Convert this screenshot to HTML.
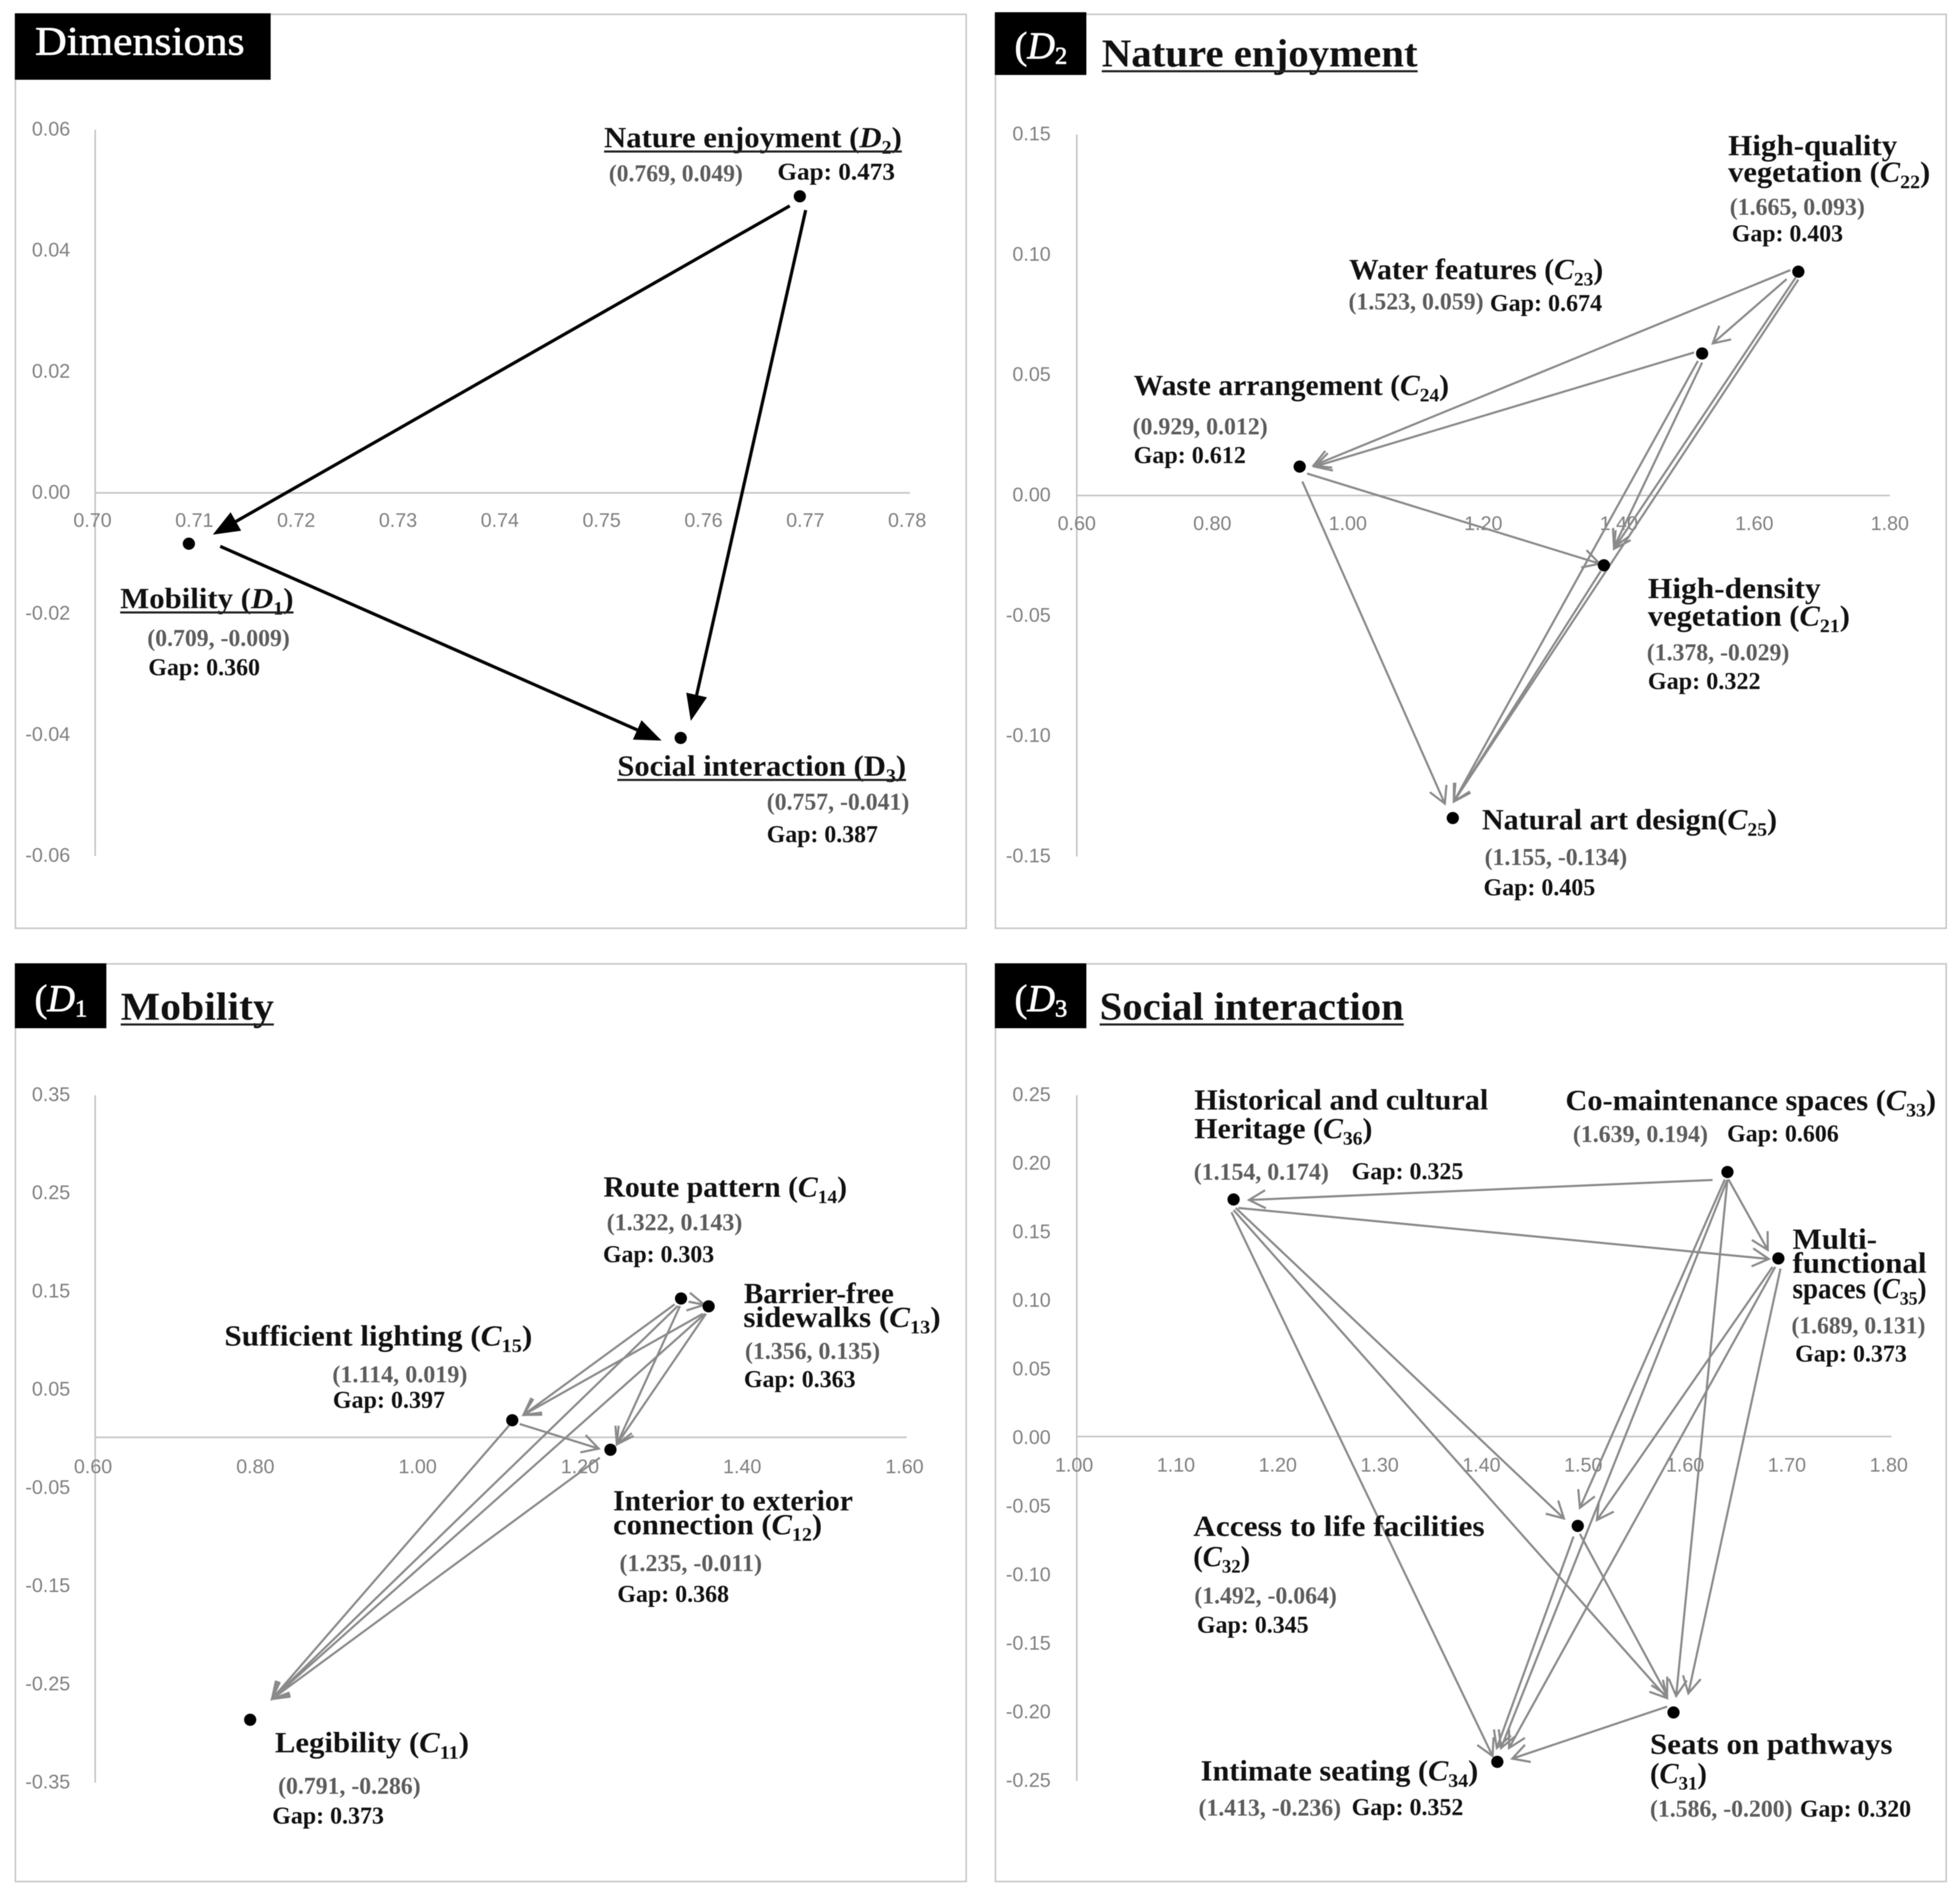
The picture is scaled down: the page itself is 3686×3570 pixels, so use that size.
<!DOCTYPE html>
<html lang="en">
<head>
<meta charset="utf-8">
<title>Influential network relation maps</title>
<style>
html,body{margin:0;padding:0;background:#fff;}
svg{display:block;filter:blur(0.8px);}
text{font-family:"Liberation Serif",serif;}
.l{font-size:55px;font-weight:700;fill:#111;}
.v{font-size:46px;font-weight:700;fill:#5c5c5c;}
.g{font-size:46px;font-weight:700;fill:#111;}
.t{font-size:74px;font-weight:700;fill:#111;}
.h{font-size:72px;fill:#fff;stroke:#fff;stroke-width:1.3px;}
.tick{font-family:"Liberation Sans",sans-serif;font-size:37px;fill:#808080;}
.border{fill:none;stroke:#c8c8c8;stroke-width:3;}
.ul{stroke:#222;stroke-width:4;}
</style>
</head>
<body>
<svg id="fig" xmlns="http://www.w3.org/2000/svg" width="3686" height="3570" viewBox="0 0 3686 3570">
<rect width="3686" height="3570" fill="#fff"/>
<rect class="border" x="29" y="27" width="1788" height="1719"/>
<rect class="border" x="1872" y="27" width="1788" height="1719"/>
<rect class="border" x="29" y="1813" width="1788" height="1726"/>
<rect class="border" x="1872" y="1813" width="1788" height="1726"/>
<g id="chart-layer"></g>

<!-- headers -->
<rect x="28" y="25" width="481" height="125" fill="#000"/>
<text class="h" x="66" y="103" font-size="76" textLength="394" lengthAdjust="spacingAndGlyphs" style="font-size:76px">Dimensions</text>

<rect x="1871" y="23" width="172" height="118" fill="#000"/>
<text class="h" x="1908" y="110">(<tspan font-style="italic">D</tspan><tspan font-size="46" dy="10">2</tspan></text>
<text class="t" x="2072" y="125" textLength="594" lengthAdjust="spacingAndGlyphs">Nature enjoyment</text>
<line class="ul" x1="2072" x2="2666" y1="134" y2="134"/>

<rect x="28" y="1812" width="172" height="122" fill="#000"/>
<text class="h" x="65" y="1902">(<tspan font-style="italic">D</tspan><tspan font-size="46" dy="10">1</tspan></text>
<text class="t" x="227" y="1918" textLength="288" lengthAdjust="spacingAndGlyphs">Mobility</text>
<line class="ul" x1="227" x2="515" y1="1927" y2="1927"/>

<rect x="1871" y="1812" width="172" height="122" fill="#000"/>
<text class="h" x="1908" y="1902">(<tspan font-style="italic">D</tspan><tspan font-size="46" dy="10">3</tspan></text>
<text class="t" x="2068" y="1918" textLength="572" lengthAdjust="spacingAndGlyphs">Social interaction</text>
<line class="ul" x1="2068" x2="2640" y1="1927" y2="1927"/>

<!-- dimensions labels -->
<text class="l" x="1136" y="277" textLength="560" lengthAdjust="spacingAndGlyphs">Nature enjoyment (<tspan font-style="italic">D</tspan><tspan font-size="36" dy="12">2</tspan><tspan dy="-12">)</tspan></text>
<line class="ul" x1="1136" x2="1696" y1="285" y2="285"/>
<text class="v" x="1145" y="341" textLength="252" lengthAdjust="spacingAndGlyphs">(0.769, 0.049)</text>
<text class="g" x="1462" y="338" textLength="221" lengthAdjust="spacingAndGlyphs">Gap: 0.473</text>

<text class="l" x="226" y="1144" textLength="326" lengthAdjust="spacingAndGlyphs">Mobility (<tspan font-style="italic">D</tspan><tspan font-size="36" dy="12">1</tspan><tspan dy="-12">)</tspan></text>
<line class="ul" x1="226" x2="552" y1="1152" y2="1152"/>
<text class="v" x="277" y="1215" textLength="268" lengthAdjust="spacingAndGlyphs">(0.709, -0.009)</text>
<text class="g" x="279" y="1270" textLength="210" lengthAdjust="spacingAndGlyphs">Gap: 0.360</text>

<text class="l" x="1161" y="1459" textLength="543" lengthAdjust="spacingAndGlyphs">Social interaction (D<tspan font-size="36" dy="12">3</tspan><tspan dy="-12">)</tspan></text>
<line class="ul" x1="1161" x2="1704" y1="1467" y2="1467"/>
<text class="v" x="1442" y="1523" textLength="268" lengthAdjust="spacingAndGlyphs">(0.757, -0.041)</text>
<text class="g" x="1442" y="1584" textLength="209" lengthAdjust="spacingAndGlyphs">Gap: 0.387</text>

<!-- nature labels -->
<text class="l" x="3250" y="292" textLength="318" lengthAdjust="spacingAndGlyphs">High-quality</text>
<text class="l" x="3250" y="342" textLength="380" lengthAdjust="spacingAndGlyphs">vegetation (<tspan font-style="italic">C</tspan><tspan font-size="36" dy="12">22</tspan><tspan dy="-12">)</tspan></text>
<text class="v" x="3253" y="404" textLength="254" lengthAdjust="spacingAndGlyphs">(1.665, 0.093)</text>
<text class="g" x="3257" y="454" textLength="209" lengthAdjust="spacingAndGlyphs">Gap: 0.403</text>

<text class="l" x="2537" y="525" textLength="478" lengthAdjust="spacingAndGlyphs">Water features (<tspan font-style="italic">C</tspan><tspan font-size="36" dy="12">23</tspan><tspan dy="-12">)</tspan></text>
<text class="v" x="2536" y="582" textLength="254" lengthAdjust="spacingAndGlyphs">(1.523, 0.059)</text>
<text class="g" x="2802" y="585" textLength="211" lengthAdjust="spacingAndGlyphs">Gap: 0.674</text>

<text class="l" x="2132" y="743" textLength="593" lengthAdjust="spacingAndGlyphs">Waste arrangement (<tspan font-style="italic">C</tspan><tspan font-size="36" dy="12">24</tspan><tspan dy="-12">)</tspan></text>
<text class="v" x="2130" y="817" textLength="254" lengthAdjust="spacingAndGlyphs">(0.929, 0.012)</text>
<text class="g" x="2132" y="871" textLength="211" lengthAdjust="spacingAndGlyphs">Gap: 0.612</text>

<text class="l" x="3099" y="1125" textLength="325" lengthAdjust="spacingAndGlyphs">High-density</text>
<text class="l" x="3099" y="1177" textLength="380" lengthAdjust="spacingAndGlyphs">vegetation (<tspan font-style="italic">C</tspan><tspan font-size="36" dy="12">21</tspan><tspan dy="-12">)</tspan></text>
<text class="v" x="3097" y="1242" textLength="268" lengthAdjust="spacingAndGlyphs">(1.378, -0.029)</text>
<text class="g" x="3099" y="1296" textLength="212" lengthAdjust="spacingAndGlyphs">Gap: 0.322</text>

<text class="l" x="2787" y="1560" textLength="555" lengthAdjust="spacingAndGlyphs">Natural art design(<tspan font-style="italic">C</tspan><tspan font-size="36" dy="12">25</tspan><tspan dy="-12">)</tspan></text>
<text class="v" x="2792" y="1627" textLength="268" lengthAdjust="spacingAndGlyphs">(1.155, -0.134)</text>
<text class="g" x="2790" y="1684" textLength="210" lengthAdjust="spacingAndGlyphs">Gap: 0.405</text>

<!-- mobility labels -->
<text class="l" x="1135" y="2251" textLength="458" lengthAdjust="spacingAndGlyphs">Route pattern (<tspan font-style="italic">C</tspan><tspan font-size="36" dy="12">14</tspan><tspan dy="-12">)</tspan></text>
<text class="v" x="1141" y="2314" textLength="255" lengthAdjust="spacingAndGlyphs">(1.322, 0.143)</text>
<text class="g" x="1134" y="2374" textLength="209" lengthAdjust="spacingAndGlyphs">Gap: 0.303</text>

<text class="l" x="1399" y="2451" textLength="282" lengthAdjust="spacingAndGlyphs">Barrier-free</text>
<text class="l" x="1398" y="2496" textLength="371" lengthAdjust="spacingAndGlyphs">sidewalks (<tspan font-style="italic">C</tspan><tspan font-size="36" dy="12">13</tspan><tspan dy="-12">)</tspan></text>
<text class="v" x="1401" y="2556" textLength="254" lengthAdjust="spacingAndGlyphs">(1.356, 0.135)</text>
<text class="g" x="1399" y="2609" textLength="210" lengthAdjust="spacingAndGlyphs">Gap: 0.363</text>

<text class="l" x="422" y="2531" textLength="579" lengthAdjust="spacingAndGlyphs">Sufficient lighting (<tspan font-style="italic">C</tspan><tspan font-size="36" dy="12">15</tspan><tspan dy="-12">)</tspan></text>
<text class="v" x="625" y="2600" textLength="254" lengthAdjust="spacingAndGlyphs">(1.114, 0.019)</text>
<text class="g" x="626" y="2648" textLength="211" lengthAdjust="spacingAndGlyphs">Gap: 0.397</text>

<text class="l" x="1153" y="2841" textLength="451" lengthAdjust="spacingAndGlyphs">Interior to exterior</text>
<text class="l" x="1153" y="2886" textLength="393" lengthAdjust="spacingAndGlyphs">connection (<tspan font-style="italic">C</tspan><tspan font-size="36" dy="12">12</tspan><tspan dy="-12">)</tspan></text>
<text class="v" x="1165" y="2955" textLength="268" lengthAdjust="spacingAndGlyphs">(1.235, -0.011)</text>
<text class="g" x="1161" y="3013" textLength="210" lengthAdjust="spacingAndGlyphs">Gap: 0.368</text>

<text class="l" x="517" y="3296" textLength="365" lengthAdjust="spacingAndGlyphs">Legibility (<tspan font-style="italic">C</tspan><tspan font-size="36" dy="12">11</tspan><tspan dy="-12">)</tspan></text>
<text class="v" x="523" y="3374" textLength="268" lengthAdjust="spacingAndGlyphs">(0.791, -0.286)</text>
<text class="g" x="512" y="3430" textLength="210" lengthAdjust="spacingAndGlyphs">Gap: 0.373</text>

<!-- social labels -->
<text class="l" x="2246" y="2087" textLength="553" lengthAdjust="spacingAndGlyphs">Historical and cultural</text>
<text class="l" x="2246" y="2141" textLength="335" lengthAdjust="spacingAndGlyphs">Heritage (<tspan font-style="italic">C</tspan><tspan font-size="36" dy="12">36</tspan><tspan dy="-12">)</tspan></text>
<text class="v" x="2245" y="2219" textLength="254" lengthAdjust="spacingAndGlyphs">(1.154, 0.174)</text>
<text class="g" x="2542" y="2218" textLength="210" lengthAdjust="spacingAndGlyphs">Gap: 0.325</text>

<text class="l" x="2944" y="2088" textLength="697" lengthAdjust="spacingAndGlyphs">Co-maintenance spaces (<tspan font-style="italic">C</tspan><tspan font-size="36" dy="12">33</tspan><tspan dy="-12">)</tspan></text>
<text class="v" x="2958" y="2148" textLength="254" lengthAdjust="spacingAndGlyphs">(1.639, 0.194)</text>
<text class="g" x="3248" y="2147" textLength="210" lengthAdjust="spacingAndGlyphs">Gap: 0.606</text>

<text class="l" x="3371" y="2349" textLength="159" lengthAdjust="spacingAndGlyphs">Multi-</text>
<text class="l" x="3371" y="2394" textLength="252" lengthAdjust="spacingAndGlyphs">functional</text>
<text class="l" x="3371" y="2442" textLength="252" lengthAdjust="spacingAndGlyphs">spaces (<tspan font-style="italic">C</tspan><tspan font-size="36" dy="12">35</tspan><tspan dy="-12">)</tspan></text>
<text class="v" x="3369" y="2508" textLength="252" lengthAdjust="spacingAndGlyphs">(1.689, 0.131)</text>
<text class="g" x="3376" y="2561" textLength="210" lengthAdjust="spacingAndGlyphs">Gap: 0.373</text>

<text class="l" x="2244" y="2889" textLength="548" lengthAdjust="spacingAndGlyphs">Access to life facilities</text>
<text class="l" x="2244" y="2946" textLength="107" lengthAdjust="spacingAndGlyphs">(<tspan font-style="italic">C</tspan><tspan font-size="36" dy="12">32</tspan><tspan dy="-12">)</tspan></text>
<text class="v" x="2246" y="3016" textLength="268" lengthAdjust="spacingAndGlyphs">(1.492, -0.064)</text>
<text class="g" x="2251" y="3071" textLength="210" lengthAdjust="spacingAndGlyphs">Gap: 0.345</text>

<text class="l" x="3103" y="3299" textLength="456" lengthAdjust="spacingAndGlyphs">Seats on pathways</text>
<text class="l" x="3103" y="3354" textLength="107" lengthAdjust="spacingAndGlyphs">(<tspan font-style="italic">C</tspan><tspan font-size="36" dy="12">31</tspan><tspan dy="-12">)</tspan></text>
<text class="v" x="3103" y="3417" textLength="268" lengthAdjust="spacingAndGlyphs">(1.586, -0.200)</text>
<text class="g" x="3385" y="3417" textLength="209" lengthAdjust="spacingAndGlyphs">Gap: 0.320</text>

<text class="l" x="2258" y="3349" textLength="522" lengthAdjust="spacingAndGlyphs">Intimate seating (<tspan font-style="italic">C</tspan><tspan font-size="36" dy="12">34</tspan><tspan dy="-12">)</tspan></text>
<text class="v" x="2254" y="3415" textLength="268" lengthAdjust="spacingAndGlyphs">(1.413, -0.236)</text>
<text class="g" x="2542" y="3414" textLength="210" lengthAdjust="spacingAndGlyphs">Gap: 0.352</text>
</svg>

<script>
// ---- Dimensions panel data ----
const dimCategories = ['D1', 'D2', 'D3'];
const dimX = [0.7092, 0.7692, 0.7575];
const dimY = [-0.0084, 0.0490, -0.0405];
const dimXTicks = ['0.70','0.71','0.72','0.73','0.74','0.75','0.76','0.77','0.78'];
const dimYTicks = ['0.06','0.04','0.02','0.00','-0.02','-0.04','-0.06'];
const dimFrom = [1, 1, 0];
const dimTo = [0, 2, 2];

// ---- Nature enjoyment panel data ----
const natCategories = ['C21', 'C22', 'C23', 'C24', 'C25'];
const natX = [1.378, 1.665, 1.523, 0.929, 1.155];
const natY = [-0.029, 0.093, 0.059, 0.012, -0.134];
const natXTicks = ['0.60','0.80','1.00','1.20','1.40','1.60','1.80'];
const natYTicks = ['0.15','0.10','0.05','0.00','-0.05','-0.10','-0.15'];
const natFrom = [1, 1, 1, 1, 2, 2, 2, 3, 3, 0];
const natTo = [2, 3, 0, 4, 3, 0, 4, 0, 4, 4];

// ---- Mobility panel data ----
const mobCategories = ['C11', 'C12', 'C13', 'C14', 'C15'];
const mobX = [0.791, 1.235, 1.356, 1.322, 1.114];
const mobY = [-0.286, -0.011, 0.135, 0.143, 0.019];
const mobXTicks = ['0.60','0.80','1.00','1.20','1.40','1.60'];
const mobYTicks = ['0.35','0.25','0.15','0.05','-0.05','-0.15','-0.25','-0.35'];
const mobFrom = [3, 3, 3, 3, 2, 2, 2, 4, 4, 1];
const mobTo = [2, 4, 1, 0, 4, 1, 0, 1, 0, 0];

// ---- Social interaction panel data ----
const socCategories = ['C31', 'C32', 'C33', 'C34', 'C35', 'C36'];
const socX = [1.586, 1.492, 1.639, 1.413, 1.689, 1.154];
const socY = [-0.200, -0.064, 0.194, -0.236, 0.131, 0.174];
const socXTicks = ['1.00','1.10','1.20','1.30','1.40','1.50','1.60','1.70','1.80'];
const socYTicks = ['0.25','0.20','0.15','0.10','0.05','0.00','-0.05','-0.10','-0.15','-0.20','-0.25'];
const socFrom = [2, 2, 2, 2, 2, 5, 5, 5, 5, 4, 4, 4, 1, 1, 0];
const socTo = [5, 4, 1, 0, 3, 4, 1, 0, 3, 1, 3, 0, 0, 3, 3];

// ---- Styling: how far each connector stops short of its node (dx, dy of start then end) ----
const dimGaps = [[-19,18,45,-17],[11,26,19,-32],[59,5,-36,5]];
const natGaps = [[-22,14,20,-19],[-15,-3,26,-2],[-5,11,19,-31],[0,15,2,-31],[-15,-2,28,0],[0,17,19,-34],[-8,14,2,-31],[14,13,-8,-3],[5,28,-15,-27],[-6,11,2,-31]];
const mobGaps = [[14,6,-8,-3],[-12,11,21,-10],[-2,14,12,-10],[-6,14,41,-39],[-11,14,21,-10],[-5,14,12,-10],[-7,14,41,-39],[14,7,-22,-2],[-6,10,41,-39],[-20,15,41,-39]];
const socGaps = [[-28,15,29,1],[2,14,-20,-16],[-5,14,4,-34],[0,14,5,-31],[-1,16,7,-26],[9,16,-18,1],[4,16,-26,-14],[0,20,-12,-27],[-4,24,-9,-11],[-11,16,36,-11],[-6,16,22,-26],[4,19,28,-36],[4,15,-12,-32],[-8,20,-1,-26],[-12,-11,28,-6]];

const SVGNS = 'http://www.w3.org/2000/svg';
const layer = document.getElementById('chart-layer');

function make(tag, attrs) {
  const el = document.createElementNS(SVGNS, tag);
  for (const k in attrs) el.setAttribute(k, attrs[k]);
  layer.appendChild(el);
  return el;
}

function drawPanel(p) {
  const xVals = p.xTicks.map(Number);
  const yVals = p.yTicks.map(Number);
  const xMin = Math.min(...xVals), xMax = Math.max(...xVals);
  const yMin = Math.min(...yVals), yMax = Math.max(...yVals);
  const sx = v => p.left + (v - xMin) / (xMax - xMin) * (p.right - p.left);
  const sy = v => p.top + (yMax - v) / (yMax - yMin) * (p.bottom - p.top);
  const zeroY = sy(0) + p.zeroShift;

  const yAxis = make('line', {x1: p.left, x2: p.left, y1: p.top, y2: p.bottom, stroke: '#c4c4c4', 'stroke-width': 3});
  
  
  const xAxis = make('line', {x1: p.left, x2: p.right, y1: zeroY, y2: zeroY, stroke: '#c4c4c4', 'stroke-width': 3});
  
  

  p.xTicks.forEach(t => {
    const el = make('text', {x: sx(+t) + p.xLabelShift, y: p.xLabelY, 'text-anchor': 'middle', class: 'tick'});
    el.textContent = t;
    
    
  });
  p.yTicks.forEach(t => {
    const el = make('text', {x: p.yLabelX, y: sy(+t) + 11, 'text-anchor': 'end', class: 'tick'});
    el.textContent = t;
    
    
  });

  p.from.forEach((a, i) => {
    const b = p.to[i];
    const g = p.gaps[i];
    const x1 = sx(p.x[a]) + g[0], y1 = sy(p.y[a]) + g[1];
    const x2 = sx(p.x[b]) + g[2], y2 = sy(p.y[b]) + g[3];
    const len = Math.hypot(x2 - x1, y2 - y1);
    const ux = (x2 - x1) / len, uy = (y2 - y1) / len;
    const nx = -uy, ny = ux;
    const bx = x2 - ux * p.headLen, by = y2 - uy * p.headLen;
    const lineEndX = p.solid ? bx : x2, lineEndY = p.solid ? by : y2;
    const line = make('line', {x1: x1, y1: y1, x2: lineEndX, y2: lineEndY, stroke: p.color, 'stroke-width': p.width});
    
    
    const pts = (bx + nx * p.headHalf) + ',' + (by + ny * p.headHalf) + ' ' + x2 + ',' + y2 + ' ' + (bx - nx * p.headHalf) + ',' + (by - ny * p.headHalf);
    const head = p.solid
      ? make('polygon', {points: pts, fill: p.color})
      : make('polyline', {points: pts, fill: 'none', stroke: p.color, 'stroke-width': p.width});
    
    
  });

  p.cats.forEach((c, i) => {
    const dot = make('circle', {cx: sx(p.x[i]), cy: sy(p.y[i]), r: 11.5, fill: '#000'});
    
    
  });
}

drawPanel({id:'dimensions', cats:dimCategories, x:dimX, y:dimY, xTicks:dimXTicks, yTicks:dimYTicks, from:dimFrom, to:dimTo, gaps:dimGaps,
  left:179, right:1711, top:244, bottom:1610, zeroShift:0, xLabelShift:-5, xLabelY:991, yLabelX:132,
  solid:true, color:'#000', width:6, headLen:50, headHalf:20});
drawPanel({id:'nature', cats:natCategories, x:natX, y:natY, xTicks:natXTicks, yTicks:natYTicks, from:natFrom, to:natTo, gaps:natGaps,
  left:2025, right:3554, top:253, bottom:1611, zeroShift:0, xLabelShift:0, xLabelY:997, yLabelX:1976,
  solid:false, color:'#8a8a8a', width:4, headLen:31, headHalf:17});
drawPanel({id:'mobility', cats:mobCategories, x:mobX, y:mobY, xTicks:mobXTicks, yTicks:mobYTicks, from:mobFrom, to:mobTo, gaps:mobGaps,
  left:179, right:1705, top:2060, bottom:3353, zeroShift:-3, xLabelShift:-4, xLabelY:2771, yLabelX:132,
  solid:false, color:'#8a8a8a', width:4, headLen:31, headHalf:17});
drawPanel({id:'social', cats:socCategories, x:socX, y:socY, xTicks:socXTicks, yTicks:socYTicks, from:socFrom, to:socTo, gaps:socGaps,
  left:2025, right:3557, top:2060, bottom:3350, zeroShift:-3, xLabelShift:-5, xLabelY:2768, yLabelX:1976,
  solid:false, color:'#8a8a8a', width:4, headLen:31, headHalf:17});
</script>
</body>
</html>
